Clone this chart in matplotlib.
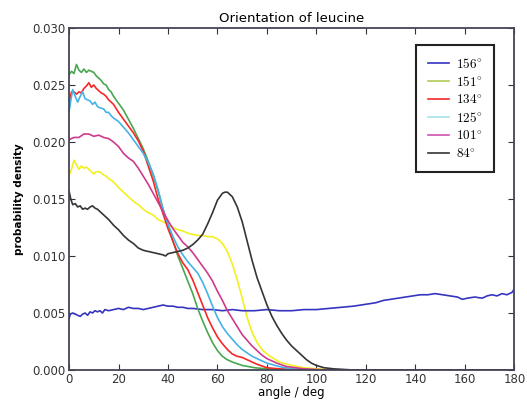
import matplotlib
matplotlib.use("Agg")
import matplotlib.pyplot as plt

plt.rcParams['mathtext.fontset'] = 'cm'

title = "Orientation of leucine"
xlabel = "angle / deg"
ylabel = "probability density"
xticks = [0, 20, 40, 60, 80, 100, 120, 140, 160, 180]
yticks = [0.000, 0.005, 0.010, 0.015, 0.020, 0.025, 0.030]

blue_x = [0, 0.5, 1.5, 2.5, 3.5, 4.5, 5.5, 6.5, 7.5, 8.5, 9.5, 10.5, 11.5, 12.5, 13.5, 14.5, 16, 18, 20, 22, 24, 26, 28, 30, 32, 34, 36, 38, 40, 42, 44, 46, 48, 50, 54, 58, 62, 66, 70, 75, 80, 85, 90, 95, 100, 105, 110, 115, 118, 121, 124, 127, 130, 133, 136, 139, 142, 145, 148, 151, 154, 157, 159, 161, 164, 167, 169, 171, 173, 175, 177, 179, 180]
blue_y = [0.0045, 0.0049, 0.0050, 0.0049, 0.0048, 0.0047, 0.0049, 0.0050, 0.0048, 0.0051, 0.0050, 0.0052, 0.0051, 0.0052, 0.0050, 0.0053, 0.0052, 0.0053, 0.0054, 0.0053, 0.0055, 0.0054, 0.0054, 0.0053, 0.0054, 0.0055, 0.0056, 0.0057, 0.0056, 0.0056, 0.0055, 0.0055, 0.0054, 0.0054, 0.0053, 0.0053, 0.0052, 0.0053, 0.0052, 0.0052, 0.0053, 0.0052, 0.0052, 0.0053, 0.0053, 0.0054, 0.0055, 0.0056, 0.0057, 0.0058, 0.0059, 0.0061, 0.0062, 0.0063, 0.0064, 0.0065, 0.0066, 0.0066, 0.0067, 0.0066, 0.0065, 0.0064, 0.0062, 0.0063, 0.0064, 0.0063, 0.0065, 0.0066, 0.0065, 0.0067, 0.0066, 0.0068, 0.0071]

green_x = [0, 1, 2, 3, 4, 5, 6, 7, 8, 9, 10, 11, 12, 13, 14, 15, 16, 17, 18, 20, 22, 24, 26, 28, 30, 32, 34, 36, 38, 40, 42, 44, 46, 48, 50, 52, 54, 56, 58, 60, 62, 64, 66, 70, 75, 80, 90, 180]
green_y = [0.0259, 0.0262, 0.0260, 0.0268, 0.0263, 0.0261, 0.0264, 0.0261, 0.0263, 0.0262, 0.0261, 0.0258, 0.0256, 0.0254, 0.0251, 0.0250, 0.0246, 0.0244, 0.0240, 0.0234, 0.0228, 0.0220, 0.0212, 0.0203, 0.0194, 0.0183, 0.0171, 0.0157, 0.0141, 0.0127, 0.0113, 0.0100, 0.0089, 0.0078, 0.0067, 0.0054, 0.0043, 0.0033, 0.0024, 0.0017, 0.0012, 0.0009, 0.0007, 0.0004, 0.0002, 0.0001, 0.0000, 0.0000]

red_x = [0, 1, 2, 3, 4, 5, 6, 7, 8, 9, 10, 11, 12, 13, 14, 15, 16, 17, 18, 20, 22, 24, 26, 28, 30, 32, 34, 36, 38, 40, 42, 44, 46, 48, 50, 52, 54, 56, 58, 60, 62, 64, 66, 68, 70, 72, 76, 80, 85, 95, 180]
red_y = [0.0235, 0.0244, 0.0244, 0.0242, 0.0244, 0.0243, 0.0247, 0.0249, 0.0252, 0.0248, 0.0250, 0.0247, 0.0245, 0.0243, 0.0242, 0.0240, 0.0237, 0.0235, 0.0233, 0.0226, 0.0220, 0.0214, 0.0208, 0.0201, 0.0192, 0.0179, 0.0166, 0.0150, 0.0137, 0.0124, 0.0113, 0.0102, 0.0094, 0.0088, 0.0079, 0.0068, 0.0057, 0.0046, 0.0037, 0.0029, 0.0023, 0.0018, 0.0014, 0.0012, 0.0011, 0.0009, 0.0005, 0.0002, 0.0001, 0.0000, 0.0000]

cyan_x = [0, 1, 1.5, 2.5, 3.5, 4.5, 5.5, 6.5, 7.5, 8.5, 9.5, 10.5, 11.5, 12.5, 14, 15, 16, 17, 18, 20, 22, 24, 26, 28, 30, 32, 34, 36, 38, 40, 42, 44, 46, 48, 50, 52, 54, 56, 58, 60, 62, 64, 66, 68, 70, 72, 74, 77, 80, 85, 90, 100, 180]
cyan_y = [0.0227, 0.0240, 0.0246, 0.0240, 0.0235, 0.0240, 0.0244, 0.0238, 0.0237, 0.0236, 0.0233, 0.0235, 0.0231, 0.0230, 0.0229, 0.0226, 0.0226, 0.0223, 0.0221, 0.0218, 0.0213, 0.0208, 0.0202, 0.0196, 0.0190, 0.0182, 0.0172, 0.0158, 0.0141, 0.0128, 0.0117, 0.0108, 0.0101, 0.0095, 0.0090, 0.0085, 0.0077, 0.0067, 0.0056, 0.0046, 0.0038, 0.0032, 0.0027, 0.0022, 0.0018, 0.0015, 0.0012, 0.0009, 0.0006, 0.0003, 0.0001, 0.0000, 0.0000]

magenta_x = [0, 2, 4, 6, 8, 10, 12, 14, 16, 18, 20, 22, 24, 26, 28, 30, 32, 34, 36, 38, 40, 42, 44, 46, 48, 50, 52, 54, 56, 58, 60, 62, 64, 66, 68, 70, 72, 74, 76, 78, 80, 84, 88, 95, 105, 180]
magenta_y = [0.0202, 0.0204, 0.0204, 0.0207, 0.0207, 0.0205, 0.0206, 0.0204, 0.0203, 0.0200, 0.0196, 0.0190, 0.0186, 0.0183, 0.0177, 0.0170, 0.0163, 0.0155, 0.0147, 0.0139, 0.0131, 0.0124, 0.0118, 0.0112, 0.0108, 0.0103, 0.0097, 0.0091, 0.0085, 0.0078, 0.0069, 0.0061, 0.0052, 0.0045, 0.0038, 0.0031, 0.0026, 0.0021, 0.0017, 0.0013, 0.0010, 0.0006, 0.0003, 0.0001, 0.0000, 0.0000]

yellow_x = [0, 1, 2, 3, 4, 5, 6, 7, 8, 9, 10, 11, 12, 13, 14, 15, 16, 18, 20, 22, 24, 26, 28, 30, 32, 34, 36, 38, 40, 42, 44, 46, 48, 50, 52, 54, 56, 58, 60, 62, 64, 66, 68, 70, 72, 74, 76, 78, 80, 82, 85, 90, 95, 100, 110, 180]
yellow_y = [0.0171, 0.0176, 0.0184, 0.0180, 0.0176, 0.0179, 0.0177, 0.0178, 0.0176, 0.0174, 0.0172, 0.0174, 0.0174, 0.0173, 0.0171, 0.0170, 0.0168, 0.0165, 0.0160, 0.0156, 0.0152, 0.0148, 0.0145, 0.0141, 0.0138, 0.0136, 0.0132, 0.0130, 0.0128, 0.0125, 0.0123, 0.0122, 0.0120, 0.0119, 0.0118, 0.0118, 0.0117, 0.0117, 0.0115, 0.0111, 0.0104, 0.0093, 0.0079, 0.0063, 0.0046, 0.0033, 0.0024, 0.0018, 0.0014, 0.0011, 0.0007, 0.0004, 0.0002, 0.0001, 0.0000, 0.0000]

black_x = [0, 0.7, 1.5, 2.5, 3.5, 4.5, 5.5, 6.5, 7.5, 8.5, 9.5, 10.5, 11.5, 12.5, 14, 16, 18, 20, 22, 24, 26, 28, 30, 32, 34, 36, 38, 39, 40, 42, 44, 46, 48, 50, 52, 54, 56, 58, 60, 62, 63, 64, 66, 68, 70, 72, 74, 76, 78, 80, 82, 84, 86, 88, 90, 92, 94, 96, 98, 100, 103, 107, 115, 180]
black_y = [0.0157, 0.0150, 0.0145, 0.0146, 0.0143, 0.0144, 0.0141, 0.0142, 0.0141, 0.0143, 0.0144, 0.0142, 0.0141, 0.0139, 0.0136, 0.0132, 0.0127, 0.0123, 0.0118, 0.0114, 0.0111, 0.0107, 0.0105, 0.0104, 0.0103, 0.0102, 0.0101, 0.0100, 0.0102, 0.0103, 0.0104, 0.0105, 0.0107, 0.0110, 0.0114, 0.0119, 0.0128, 0.0138, 0.0149, 0.0155, 0.0156, 0.0156, 0.0152, 0.0143, 0.0130, 0.0113, 0.0096, 0.0081, 0.0069, 0.0057, 0.0047, 0.0039, 0.0032, 0.0026, 0.0021, 0.0017, 0.0013, 0.0009, 0.0006, 0.0004, 0.0002, 0.0001, 0.0000, 0.0000]

fig = plt.figure(figsize=(5.27, 4.0), dpi=100)
ax = fig.add_axes([0.131, 0.075, 0.845, 0.855])

lw = 1.2
ax.plot(yellow_x, yellow_y, color='#f2f020', lw=lw, label='_nolegend_')
l_blue, = ax.plot(blue_x, blue_y, color='#3535c0', lw=lw)
l_green, = ax.plot(green_x, green_y, color='#4aa650', lw=lw)
l_red, = ax.plot(red_x, red_y, color='#f52828', lw=lw)
l_cyan, = ax.plot(cyan_x, cyan_y, color='#45b2e8', lw=lw)
l_mag, = ax.plot(magenta_x, magenta_y, color='#d03a8c', lw=lw)
l_black, = ax.plot(black_x, black_y, color='#353535', lw=lw)

ax.set_xlim(0, 180)
ax.set_ylim(0, 0.030)
ax.set_xticks(xticks)
ax.set_yticks(yticks)
ax.set_yticklabels(['%.3f' % v for v in yticks])
ax.tick_params(direction='in', top=True, right=True, labelsize=8.5, colors='#333333', length=4, pad=2.5)
for s in ax.spines.values():
    s.set_color('#444455')
    s.set_linewidth(1.3)

ax.set_title(title, fontsize=9.5, pad=4)
ax.set_xlabel(xlabel, fontsize=8.5, labelpad=0)
ax.set_ylabel(ylabel, fontsize=7.5, fontweight='bold', labelpad=6)

labels = [r'$156^{\circ}$', r'$151^{\circ}$', r'$134^{\circ}$', r'$125^{\circ}$', r'$101^{\circ}$', r'$84^{\circ}$']
leg = ax.legend([l_blue, l_green, l_red, l_cyan, l_mag, l_black], labels,
                loc='upper right', bbox_to_anchor=(0.955, 0.95), borderaxespad=0,
                fontsize=9.5, handlelength=1.6, handletextpad=0.5, labelspacing=0.3,
                borderpad=0.9, fancybox=False, framealpha=1)
leg.get_frame().set_edgecolor('#222222')
leg.get_frame().set_linewidth(1.5)
leg_colors = ['#3535c0', '#b0cc55', '#f52828', '#a8e2ea', '#d050b0', '#353535']
for ln, c in zip(leg.get_lines(), leg_colors):
    ln.set_color(c)

fig.savefig('out.png', dpi=100)
